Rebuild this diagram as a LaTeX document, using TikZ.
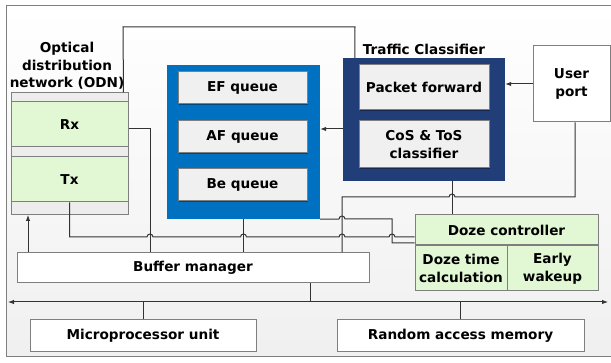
\documentclass[tikz,border=0pt]{standalone}
\usepackage{fontspec}
\setmainfont{DejaVu Sans}
\usetikzlibrary{arrows.meta,positioning,shadows}

\definecolor{framegray}{HTML}{7F7F7F}
\definecolor{wiregray}{HTML}{333333}
\definecolor{ctrlgreen}{HTML}{E2F8D5}
\definecolor{queueblue}{HTML}{0070C0}
\definecolor{tcnavy}{HTML}{223E78}
\definecolor{cellgray}{HTML}{F0F0F0}

\tikzset{
  blk/.style={rectangle, draw=framegray, fill=white, line width=1pt, inner sep=0pt, align=center},
  cell/.style={blk, fill=cellgray, drop shadow={shadow xshift=1.2pt, shadow yshift=-1.2pt, fill=black, opacity=.35}},
  ctrl/.style={blk, fill=ctrlgreen},
  wire/.style={draw=wiregray, line width=1pt},
}

\begin{document}
\begin{tikzpicture}[x=1pt, y=-1pt, >={Latex[length=6pt,width=4.5pt]}, font=\fontsize{13.6}{17.5}\selectfont\bfseries]
\useasboundingbox (0,0) rectangle (611,363);
\draw[framegray, line width=1pt, top color=white, bottom color=black!6] (6,6) rectangle (618,357);

% optical side
\node[blk, fill=black!7, minimum width=117pt, minimum height=122pt] (odn) at (69.5,154) {};
\node[ctrl, minimum width=117pt, minimum height=45pt] (rx) at (69.5,124.5) {Rx};
\node[ctrl, minimum width=117pt, minimum height=45pt, below=9pt of rx] (tx) {Tx};
\node[align=center] (odnlbl) at (67,66) {Optical\\distribution\\network (ODN)};

% queues
\node[rectangle, fill=queueblue, minimum width=153pt, minimum height=154pt, inner sep=0pt] (queues) at (243.5,142) {};
\node[cell, minimum width=129pt, minimum height=32pt] (ef) at (242.5,88) {EF queue};
\node[cell, minimum width=129pt, minimum height=32pt, below=16pt of ef] (af) {AF queue};
\node[cell, minimum width=129pt, minimum height=32pt, below=15pt of af] (be) {Be queue};

% traffic classifier
\node[rectangle, fill=tcnavy, minimum width=162pt, minimum height=123pt, inner sep=0pt] (tc) at (424,119.5) {};
\node (tclbl) at (424,49) {Traffic Classifier};
\node[cell, minimum width=130pt, minimum height=45pt] (pf) at (424,87.5) {Packet forward};
\node[cell, minimum width=130pt, minimum height=47pt, below=10pt of pf] (cos) {CoS \& ToS\\classifier};

\node[blk, minimum width=77pt, minimum height=76pt] (user) at (571.5,84) {User\\port};

% doze controller
\node[ctrl, minimum width=183pt, minimum height=30pt] (doze) at (506.5,230) {Doze controller};
\node[ctrl, minimum width=92pt, minimum height=45pt, anchor=north west] (calc) at (doze.south west) {Doze time\\calculation};
\node[ctrl, minimum width=91pt, minimum height=45pt, anchor=north east] (wake) at (doze.south east) {Early\\wakeup};

\node[blk, minimum width=352pt, minimum height=30pt] (buf) at (193,268) {Buffer manager};
\node[blk, minimum width=226pt, minimum height=32pt] (mpu) at (143,336) {Microprocessor unit};
\node[blk, minimum width=247pt, minimum height=32pt] (ram) at (460.5,336) {Random access memory};

% bus
\coordinate (busl) at (8,302);
\coordinate (busr) at (608,302);
\coordinate (bm) at (310,302);
\draw[wire,<->] (busl) -- (busr);
\draw[wire] (buf.south -| bm) -- (bm);
\draw[wire] (mpu.north) -- (mpu.north |- busl);
\draw[wire] (ram.north) -- (ram.north |- busl);

% connectors
\coordinate (odnup) at (28,215);
\coordinate (rxb) at (150,129);
\coordinate (upd) at (342,197);
\draw[wire] ([xshift=-5pt]odn.north east) -- (123,27) -- (355,27) -- ([xshift=12pt]tc.north west);
\draw[wire,->] (user.west) -- (user.west -| tc.east);
\draw[wire,->] ([yshift=-9.5pt]tc.west) coordinate (c1) -- (c1 -| queues.east);
\draw[wire,->] (buf.north -| odnup) -- (odnup);
\draw[wire] (rx.east |- rxb) -- (rxb) -- (rxb |- buf.north);
\draw[wire] (queues.south) -- (queues.south |- buf.north);
\draw[wire] ([xshift=28pt]tc.south) -- ([xshift=-54.5pt]doze.north);
\draw[wire] ([xshift=3.5pt]user.south) |- (455,197) arc[start angle=0, end angle=180, radius=3pt] -- (upd) -- (upd |- buf.north);
\draw[wire] (queues.south east) -- (339,219) arc[start angle=180, end angle=0, radius=3pt] -- (392,219) -- (392,243) -- ([yshift=-13pt]doze.west);
\draw[wire] (tx.south) -- (69.5,237) -- (147,237) arc[start angle=180, end angle=0, radius=3pt]
  -- (240.5,237) arc[start angle=180, end angle=0, radius=3pt]
  -- (339,237) arc[start angle=180, end angle=0, radius=3pt]
  -- (389,237) arc[start angle=180, end angle=0, radius=3pt] -- ([yshift=-7pt]doze.west);
\end{tikzpicture}
\end{document}
